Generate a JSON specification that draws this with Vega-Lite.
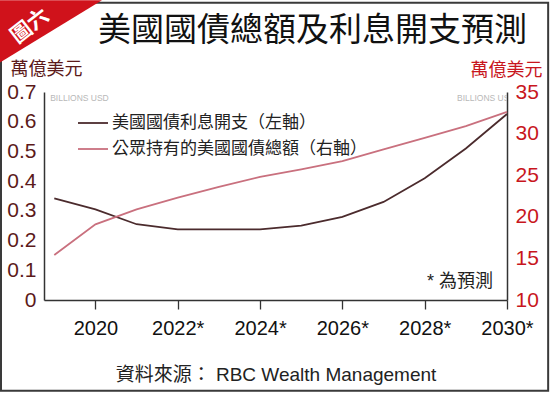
{
  "$schema": "https://vega.github.io/schema/vega-lite/v6.json",
  "width": 463,
  "height": 208,
  "autosize": {"type": "none"},
  "padding": {"left": 44, "top": 92, "right": 43, "bottom": 94},
  "background": "white",
  "title": {
    "text": "美國國債總額及利息開支預測",
    "font": "Noto Sans CJK TC",
    "fontSize": 33,
    "fontWeight": "normal",
    "color": "#111111",
    "anchor": "middle",
    "dx": 37,
    "dy": 64,
    "offset": 16
  },
  "config": {
    "view": {"stroke": null},
    "font": "Liberation Sans"
  },
  "datasets": {
    "debt": [
      {"year": 2019, "series": "美國國債利息開支（左軸）", "value": 0.342},
      {"year": 2020, "series": "美國國債利息開支（左軸）", "value": 0.305},
      {"year": 2021, "series": "美國國債利息開支（左軸）", "value": 0.255},
      {"year": 2022, "series": "美國國債利息開支（左軸）", "value": 0.238},
      {"year": 2023, "series": "美國國債利息開支（左軸）", "value": 0.238},
      {"year": 2024, "series": "美國國債利息開支（左軸）", "value": 0.238},
      {"year": 2025, "series": "美國國債利息開支（左軸）", "value": 0.25},
      {"year": 2026, "series": "美國國債利息開支（左軸）", "value": 0.28},
      {"year": 2027, "series": "美國國債利息開支（左軸）", "value": 0.33},
      {"year": 2028, "series": "美國國債利息開支（左軸）", "value": 0.41},
      {"year": 2029, "series": "美國國債利息開支（左軸）", "value": 0.51},
      {"year": 2030, "series": "美國國債利息開支（左軸）", "value": 0.626},
      {"year": 2019, "series": "公眾持有的美國國債總額（右軸）", "value": 15.4},
      {"year": 2020, "series": "公眾持有的美國國債總額（右軸）", "value": 19.1},
      {"year": 2021, "series": "公眾持有的美國國債總額（右軸）", "value": 20.9},
      {"year": 2022, "series": "公眾持有的美國國債總額（右軸）", "value": 22.3},
      {"year": 2023, "series": "公眾持有的美國國債總額（右軸）", "value": 23.6},
      {"year": 2024, "series": "公眾持有的美國國債總額（右軸）", "value": 24.8},
      {"year": 2025, "series": "公眾持有的美國國債總額（右軸）", "value": 25.7},
      {"year": 2026, "series": "公眾持有的美國國債總額（右軸）", "value": 26.7},
      {"year": 2027, "series": "公眾持有的美國國債總額（右軸）", "value": 28.1},
      {"year": 2028, "series": "公眾持有的美國國債總額（右軸）", "value": 29.5},
      {"year": 2029, "series": "公眾持有的美國國債總額（右軸）", "value": 30.9},
      {"year": 2030, "series": "公眾持有的美國國債總額（右軸）", "value": 32.6}
    ],
    "one": [{"k": 1}]
  },
  "layer": [
    {
      "data": {"name": "debt"},
      "transform": [{"filter": "datum.series === '美國國債利息開支（左軸）'"}],
      "mark": {"type": "line", "strokeWidth": 1.8},
      "encoding": {
        "x": {
          "field": "year", "type": "quantitative",
          "scale": {"domain": [2018.75, 2030], "nice": false, "zero": false},
          "axis": {
            "values": [2020, 2022, 2024, 2026, 2028, 2030],
            "labelExpr": "datum.value == 2020 ? '2020' : datum.value + '*'",
            "labelFontSize": 20,
            "labelColor": "#111111",
            "labelFont": "Liberation Sans",
            "labelPadding": 9,
            "labelFlush": false,
            "tickSize": 9,
            "tickColor": "#333333",
            "tickWidth": 1.3,
            "domainColor": "#333333",
            "domainWidth": 1.5,
            "grid": false,
            "title": "資料來源： RBC Wealth Management",
            "titleFont": "Liberation Sans, Noto Sans CJK TC",
            "titleFontSize": 19,
            "titleFontWeight": "normal",
            "titleColor": "#222222",
            "titleBaseline": "middle",
            "titleY": 74
          }
        },
        "y": {
          "field": "value", "type": "quantitative",
          "scale": {"domain": [0, 0.7], "nice": false},
          "axis": {
            "values": [0, 0.1, 0.2, 0.3, 0.4, 0.5, 0.6, 0.7],
            "format": "~g",
            "labelFontSize": 21,
            "labelColor": "#5c1a1a",
            "labelPadding": 8,
            "ticks": false,
            "grid": false,
            "domainColor": "#333333",
            "domainWidth": 1.5,
            "title": "萬億美元",
            "titleFont": "Noto Sans CJK TC",
            "titleFontSize": 18,
            "titleFontWeight": "normal",
            "titleColor": "#5c1a1a",
            "titleAngle": 0,
            "titleAlign": "left",
            "titleBaseline": "middle",
            "titleX": -34,
            "titleY": -23
          }
        },
        "color": {
          "field": "series", "type": "nominal",
          "scale": {
            "domain": ["美國國債利息開支（左軸）", "公眾持有的美國國債總額（右軸）"],
            "range": ["#4b2b2d", "#c9707e"]
          },
          "legend": {
            "orient": "none",
            "legendX": 33,
            "legendY": 15,
            "direction": "vertical",
            "title": null,
            "symbolType": "stroke",
            "symbolSize": 900,
            "symbolStrokeWidth": 1.8,
            "labelFont": "Noto Sans CJK TC",
            "labelFontSize": 17,
            "labelColor": "#222222",
            "labelOffset": 3,
            "labelLimit": 400,
            "rowPadding": 2
          }
        }
      }
    },
    {
      "data": {"name": "debt"},
      "transform": [{"filter": "datum.series === '公眾持有的美國國債總額（右軸）'"}],
      "mark": {"type": "line", "strokeWidth": 1.8},
      "encoding": {
        "x": {"field": "year", "type": "quantitative", "scale": {"domain": [2018.75, 2030], "nice": false, "zero": false}, "axis": null},
        "y": {
          "field": "value", "type": "quantitative",
          "scale": {"domain": [10, 35], "nice": false, "zero": false},
          "axis": {
            "orient": "right",
            "values": [10, 15, 20, 25, 30, 35],
            "labelFontSize": 21,
            "labelColor": "#c8161d",
            "labelPadding": 8,
            "ticks": false,
            "grid": false,
            "domainColor": "#333333",
            "domainWidth": 1.5,
            "title": "萬億美元",
            "titleFont": "Noto Sans CJK TC",
            "titleFontSize": 18,
            "titleFontWeight": "normal",
            "titleColor": "#c8161d",
            "titleAngle": 0,
            "titleAlign": "left",
            "titleBaseline": "middle",
            "titleX": -37,
            "titleY": -22
          }
        },
        "color": {"field": "series", "type": "nominal"}
      }
    },
    {
      "data": {"name": "one"},
      "mark": {"type": "rect", "fill": null, "stroke": "#3a3a3a", "strokeWidth": 2},
      "encoding": {
        "x": {"datum": 2017.705, "type": "quantitative", "scale": {"domain": [2018.75, 2030], "nice": false, "zero": false}, "axis": null},
        "x2": {"datum": 2031.0},
        "y": {"datum": 1.0, "type": "quantitative", "scale": {"domain": [0, 0.7], "nice": false}, "axis": null},
        "y2": {"datum": -0.305}
      }
    },
    {
      "data": {"name": "one"},
      "mark": {"type": "point", "filled": true, "fill": "#d0121b", "opacity": 1, "strokeWidth": 0,
               "shape": "M-1,-0.61 L1,-0.61 L-1,0.61 Z", "size": 10404},
      "encoding": {
        "x": {"datum": 2018.92, "type": "quantitative", "scale": {"domain": [2018.75, 2030], "nice": false, "zero": false}, "axis": null},
        "y": {"datum": 0.904, "type": "quantitative", "scale": {"domain": [0, 0.7], "nice": false}, "axis": null}
      }
    },
    {
      "data": {"name": "one"},
      "mark": {"type": "text", "text": "圖六", "font": "Noto Sans CJK TC", "fontWeight": "bold", "fontSize": 21,
               "color": "white", "angle": -38, "align": "center", "baseline": "middle"},
      "encoding": {
        "x": {"datum": 2018.42, "type": "quantitative", "scale": {"domain": [2018.75, 2030], "nice": false, "zero": false}, "axis": null},
        "y": {"datum": 0.92, "type": "quantitative", "scale": {"domain": [0, 0.7], "nice": false}, "axis": null}
      }
    },
    {
      "data": {"name": "one"},
      "mark": {"type": "text", "text": "BILLIONS USD", "fontSize": 8.5, "color": "#b8b8b8", "align": "left", "baseline": "middle"},
      "encoding": {
        "x": {"datum": 2018.9, "type": "quantitative", "scale": {"domain": [2018.75, 2030], "nice": false, "zero": false}, "axis": null},
        "y": {"datum": 0.68, "type": "quantitative", "scale": {"domain": [0, 0.7], "nice": false}, "axis": null}
      }
    },
    {
      "data": {"name": "one"},
      "mark": {"type": "text", "text": "BILLIONS USD", "fontSize": 8.5, "color": "#b8b8b8", "align": "left", "baseline": "middle", "clip": true},
      "encoding": {
        "x": {"datum": 2028.785, "type": "quantitative", "scale": {"domain": [2018.75, 2030], "nice": false, "zero": false}, "axis": null},
        "y": {"datum": 0.68, "type": "quantitative", "scale": {"domain": [0, 0.7], "nice": false}, "axis": null}
      }
    },
    {
      "data": {"name": "one"},
      "mark": {"type": "text", "text": "* 為預測", "font": "Liberation Sans, Noto Sans CJK TC", "fontSize": 18, "color": "#222222", "align": "right", "baseline": "middle"},
      "encoding": {
        "x": {"datum": 2029.66, "type": "quantitative", "scale": {"domain": [2018.75, 2030], "nice": false, "zero": false}, "axis": null},
        "y": {"datum": 0.06, "type": "quantitative", "scale": {"domain": [0, 0.7], "nice": false}, "axis": null}
      }
    }
  ],
  "resolve": {"scale": {"x": "independent", "y": "independent"}}
}
